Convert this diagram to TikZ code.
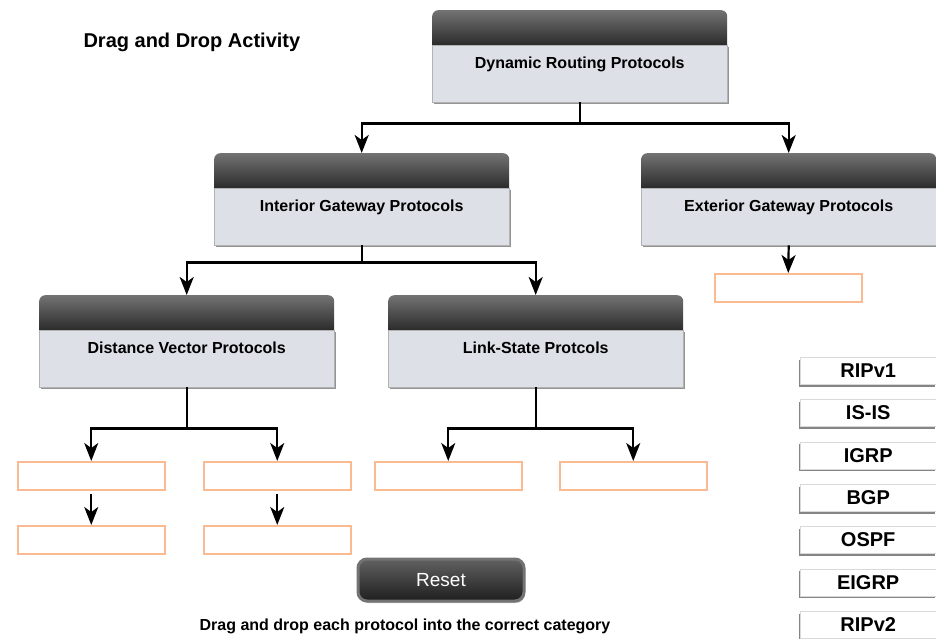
\documentclass[tikz,border=0pt]{standalone}
\usepackage{fontspec}
\setmainfont{Liberation Sans}
\usetikzlibrary{arrows.meta,shadows,positioning}
\definecolor{bodygrey}{RGB}{221,225,231}
\definecolor{slotorange}{RGB}{250,186,146}

\begin{document}
\begin{tikzpicture}[x=1pt,y=-1pt]

        \tikzstyle{cathead} = [anchor=north west, minimum width=295pt, minimum height=41pt, inner sep=0pt,
                               rounded corners=6pt, top color=black!55, bottom color=black!88]
        \tikzstyle{catbody} = [anchor=north west, minimum width=295pt, minimum height=57pt, inner sep=0pt,
                               fill=bodygrey, draw=black!30, text height=11.5pt, text depth=21pt,
                               font=\fontsize{16}{18}\selectfont\bfseries,
                               drop shadow={shadow xshift=2pt, shadow yshift=-2pt, fill=black!60, opacity=.7}]
        \tikzstyle{slot}    = [anchor=north west, minimum width=147pt, minimum height=28pt, inner sep=0pt,
                               draw=slotorange, line width=1.5pt, fill=white]
        \tikzstyle{tile}    = [anchor=north west, minimum width=136pt, minimum height=27pt, inner sep=0pt,
                               fill=white, draw=black!15, font=\fontsize{20}{22}\selectfont\bfseries,
                               drop shadow={shadow xshift=-1pt, shadow yshift=-2.5pt, fill=black!60, opacity=.8}]
        \tikzstyle{line}    = [line width=2.2pt]
        \tikzstyle{arr}     = [line width=2.2pt, -{Stealth[length=18pt, width=14pt, inset=5pt]}]

        \useasboundingbox (0,0) rectangle (936,638);

        % category boxes: dark header, light body
        \foreach \n/\x/\y/\t in {dyn/432/10/Dynamic Routing Protocols,
                                 igp/214/153/Interior Gateway Protocols,
                                 egp/641/153/Exterior Gateway Protocols,
                                 dv/39/295/Distance Vector Protocols,
                                 ls/388/295/Link-State Protcols}
        {
                \node [cathead] (\n-h) at (\x,\y) {};
                \node [catbody] (\n) at (\x,\y+35) {\t};
        }

        % empty drop targets
        \foreach \n/\x/\y in {s1/17/461, s2/203/461, s3/17/525, s4/203/525,
                              s5/374/461, s6/559/461, s7/714/273}
        {
                \node [slot] (\n) at (\x,\y) {};
        }

        % protocols to drag
        \foreach \p [count=\i] in {RIPv1, IS-IS, IGRP, BGP, OSPF, EIGRP, RIPv2}
        {
                \node [tile] (p\i) at (800,{357+(\i-1)*42.33}) {\p};
        }

        \draw [line] (dyn.south) -- ++(0,21) coordinate (dynj);
        \draw [arr] (dynj) -| (igp-h.north);
        \draw [arr] (dynj) -| (egp-h.north);

        \draw [line] (igp.south) -- ++(0,17) coordinate (igpj);
        \draw [arr] (igpj) -| (dv-h.north);
        \draw [arr] (igpj) -| (ls-h.north);

        \draw [arr] (egp.south) -- (s7.north);

        \draw [line] (dv.south) -- ++(0,41) coordinate (dvj);
        \draw [arr] (dvj) -| (s1.north);
        \draw [arr] (dvj) -| (s2.north);
        \draw [arr, shorten <=3pt] (s1.south) -- (s3.north);
        \draw [arr, shorten <=3pt] (s2.south) -- (s4.north);

        \draw [line] (ls.south) -- ++(0,41) coordinate (lsj);
        \draw [arr] (lsj) -| (s5.north);
        \draw [arr] (lsj) -| (s6.north);

        \node [minimum width=166pt, minimum height=42pt, rounded corners=9pt, draw=black!55, line width=3pt,
               top color=black!62, bottom color=black!88, text=white, font=\fontsize{19}{21}\selectfont,
               drop shadow={shadow xshift=1pt, shadow yshift=-2pt, fill=black!40, opacity=.6}]
               (reset) at (441,580) {Reset};

        \node [anchor=west, font=\fontsize{20}{22}\selectfont\bfseries] (title) at (80,42) {Drag and Drop Activity};
        \node [font=\fontsize{16}{18}\selectfont\bfseries] (hint) at (405,626)
               {Drag and drop each protocol into the correct category};

\end{tikzpicture}
\end{document}
